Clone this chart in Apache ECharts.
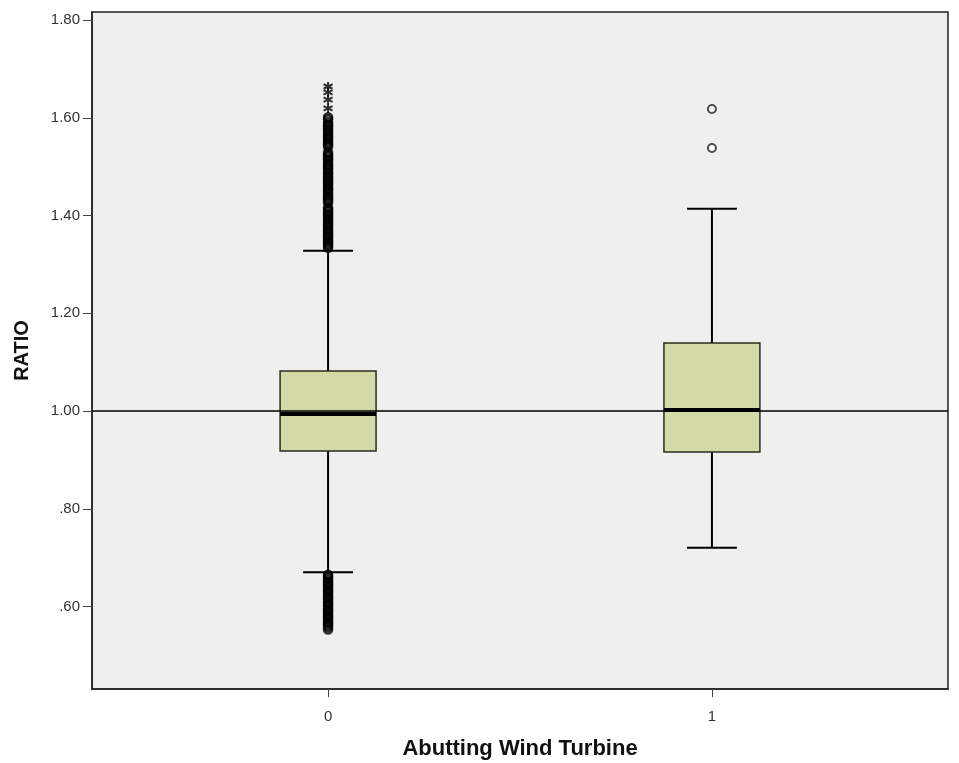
<!DOCTYPE html>
<html>
<head>
<meta charset="utf-8">
<title>RATIO by Abutting Wind Turbine</title>
<script src="https://cdn.jsdelivr.net/npm/echarts@6.0.0/dist/echarts.min.js"></script>
<style>
  html, body { margin: 0; padding: 0; background: #ffffff; }
  #chart { width: 959px; height: 763px; }
</style>
</head>
<body>
<div id="chart"></div>
<script>
// Groups on the horizontal axis (Abutting Wind Turbine = 0 / 1)
const groups = [0, 1];

// Five-number summaries per group: [min whisker, Q1, median, Q3, max whisker]
const summary0 = [0.670, 0.918, 0.994, 1.082, 1.328];
const summary1 = [0.720, 0.916, 1.002, 1.139, 1.414];

// Outliers (circles) and extremes (asterisks) per group
const outliers0 = [
  1.601, 1.597, 1.591, 1.586, 1.582, 1.577, 1.573, 1.568, 1.563, 1.559,
  1.555, 1.550, 1.546, 1.541, 1.529, 1.524, 1.520, 1.515, 1.511, 1.506,
  1.502, 1.497, 1.493, 1.488, 1.484, 1.479, 1.475, 1.470, 1.466, 1.462,
  1.457, 1.453, 1.448, 1.444, 1.439, 1.435, 1.431, 1.426, 1.416, 1.412,
  1.407, 1.403, 1.399, 1.394, 1.390, 1.385, 1.381, 1.377, 1.372, 1.368,
  1.363, 1.359, 1.355, 1.350, 1.346, 1.342, 1.338, 1.334,
  0.665, 0.661, 0.657, 0.652, 0.648, 0.644, 0.640, 0.635, 0.631, 0.627,
  0.622, 0.618, 0.614, 0.609, 0.605, 0.601, 0.596, 0.592, 0.588, 0.583,
  0.579, 0.575, 0.570, 0.566, 0.562, 0.558, 0.553
];
const extremes0 = [1.664, 1.652, 1.637, 1.619];
const outliers1 = [1.618, 1.538];

// Axis tick values
const yTicks = [0.6, 0.8, 1.0, 1.2, 1.4, 1.6, 1.8];
const xTicks = [0, 1];

const boxData = [
  [groups[0]].concat(summary0),
  [groups[1]].concat(summary1)
];
const circleData0 = outliers0.map(v => [groups[0], v]);
const circleData1 = outliers1.map(v => [groups[1], v]);
const starData = extremes0.map(v => [groups[0], v]);

const BOX_W = 0.25;   // box width in x units
const CAP_W = 0.13;   // whisker cap width in x units

function renderBox(params, api) {
  const x = api.value(0);
  const lo = api.coord([x, api.value(1)]);
  const q1 = api.coord([x, api.value(2)]);
  const md = api.coord([x, api.value(3)]);
  const q3 = api.coord([x, api.value(4)]);
  const hi = api.coord([x, api.value(5)]);
  const bw = api.size([BOX_W, 0])[0];
  const cw = api.size([CAP_W, 0])[0];
  const cx = lo[0];
  const line = { stroke: '#000000', lineWidth: 2 };
  return {
    type: 'group',
    children: [
      { type: 'line', shape: { x1: cx, y1: hi[1], x2: cx, y2: q3[1] }, style: line },
      { type: 'line', shape: { x1: cx, y1: q1[1], x2: cx, y2: lo[1] }, style: line },
      { type: 'line', shape: { x1: cx - cw / 2, y1: hi[1], x2: cx + cw / 2, y2: hi[1] }, style: line },
      { type: 'line', shape: { x1: cx - cw / 2, y1: lo[1], x2: cx + cw / 2, y2: lo[1] }, style: line },
      { type: 'rect', shape: { x: cx - bw / 2, y: q3[1], width: bw, height: q1[1] - q3[1] },
        style: { fill: '#d4daa6', stroke: '#2b2b20', lineWidth: 1.5 } },
      { type: 'line', shape: { x1: cx - bw / 2, y1: md[1], x2: cx + bw / 2, y2: md[1] },
        style: { stroke: '#000000', lineWidth: 4 } }
    ]
  };
}

const chart = echarts.init(document.getElementById('chart'), null, { renderer: 'canvas' });
chart.setOption({
  animation: false,
  backgroundColor: '#ffffff',
  grid: {
    left: 92, top: 12, width: 856, height: 677,
    containLabel: false, outerBoundsMode: 'none',
    show: true, backgroundColor: '#efefef', borderColor: '#222222', borderWidth: 1.5
  },
  xAxis: {
    type: 'value', min: -0.615, max: 1.615,
    name: 'Abutting Wind Turbine', nameLocation: 'middle', nameGap: 49,
    nameTextStyle: { fontFamily: 'Liberation Sans', fontWeight: 'bold', fontSize: 22, color: '#111111' },
    axisLine: { show: true, onZero: false, lineStyle: { color: '#222222', width: 1.5 } },
    axisTick: { show: true, customValues: xTicks, length: 8, lineStyle: { color: '#444444' } },
    axisLabel: { customValues: xTicks, margin: 20, fontFamily: 'Liberation Sans', fontSize: 15, color: '#333333',
      formatter: v => String(v) },
    splitLine: { show: false }
  },
  yAxis: {
    type: 'value', min: 0.4312, max: 1.8164,
    name: 'RATIO', nameLocation: 'middle', nameGap: 60, nameRotate: 90,
    nameTextStyle: { fontFamily: 'Liberation Sans', fontWeight: 'bold', fontSize: 20, color: '#111111' },
    axisLine: { show: true, onZero: false, lineStyle: { color: '#222222', width: 1.5 } },
    axisTick: { show: true, customValues: yTicks, length: 9, lineStyle: { color: '#444444' } },
    axisLabel: { customValues: yTicks, margin: 12, fontFamily: 'Liberation Sans', fontSize: 15, color: '#333333',
      formatter: v => (v < 1 ? v.toFixed(2).slice(1) : v.toFixed(2)) },
    splitLine: { show: false }
  },
  series: [
    {
      type: 'custom',
      renderItem: renderBox,
      data: boxData,
      encode: { x: 0, y: [1, 2, 3, 4, 5] },
      z: 3,
      markLine: {
        silent: true, symbol: 'none', label: { show: false },
        lineStyle: { color: '#000000', width: 1.5, type: 'solid' },
        data: [{ yAxis: 1.0 }]
      }
    },
    {
      type: 'scatter',
      data: circleData0,
      symbol: 'circle', symbolSize: 8,
      itemStyle: { color: 'rgba(255,255,255,0)', borderColor: '#000000', borderWidth: 2.6 },
      z: 4
    },
    {
      type: 'scatter',
      data: circleData1,
      symbol: 'circle', symbolSize: 8,
      itemStyle: { color: '#ffffff', borderColor: '#222222', borderWidth: 2 },
      z: 4
    },
    {
      type: 'scatter',
      data: starData,
      symbol: 'path://M0,-5L0,5M-4.3,-2.5L4.3,2.5M-4.3,2.5L4.3,-2.5',
      symbolSize: 9,
      itemStyle: { color: 'rgba(0,0,0,0)', borderColor: '#000000', borderWidth: 2 },
      z: 4
    }
  ]
});
</script>
</body>
</html>
